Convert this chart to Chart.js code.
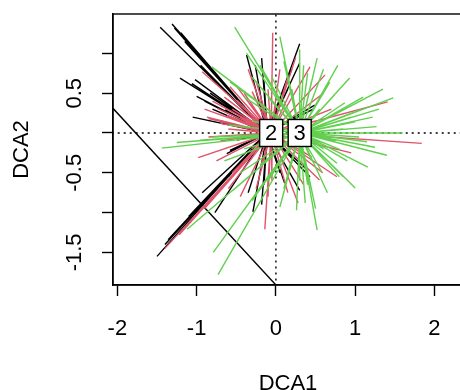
<!DOCTYPE html>
<html><head><meta charset="utf-8">
<script src="https://cdn.jsdelivr.net/npm/chart.js@4/dist/chart.umd.min.js"></script>
<style>html,body{margin:0;padding:0;overflow:hidden;background:#fff}
#wrap{width:470px;height:390px;position:relative}</style>
</head><body><div id="wrap"><canvas id="c" width="470" height="390"></canvas></div>
<script>
// Group centroids (DCA1, DCA2)
const centroidLabels = ['1', '2', '3'];
const centroidX = [-0.11, -0.06, 0.30];
const centroidY = [0.0, 0.0, 0.0];
const labelledGroups = [1, 2];

// Group 1 sites (black)
const g1X = [-1.46,-1.31,-1.24,-1.20,-1.21,-1.02,-1.06,-1.00,-1.05,-0.83,-0.37,-0.18,-0.26,0.30,0.30,0.49,0.47,0.43,0.30,0.11,-0.29,-0.18,-0.77,-0.93,-1.36,-1.34,-1.50,-0.62,-0.64,-0.49,-0.58,0.38,0.20,
  -1.28,-1.15,-0.95,-0.90,-0.80,-0.70,-0.45,-1.30,-1.40,-1.10,-0.60,-0.35,-0.15,0.05,-0.15,0.15,0.20];
const g1Y = [1.33,1.37,1.29,1.26,0.69,0.67,0.62,0.46,0.20,0.50,0.98,0.94,0.85,1.12,0.88,0.35,0.30,-0.55,-0.72,-0.63,-0.99,-0.90,-1.00,-0.75,-1.34,-1.32,-1.55,-0.26,0.29,-0.09,-0.22,-0.45,-0.30,
  1.32,1.15,0.85,0.40,0.30,0.15,0.35,-1.28,-1.40,-1.05,-0.55,-0.75,-0.65,-0.50,0.65,0.55,0.80];
// Group 2 sites (red)
const g2X = [-0.93,-0.87,-0.74,-0.73,-0.58,-0.49,-0.04,-0.30,-0.49,0.43,0.62,1.41,1.84,0.77,0.59,-0.14,0.28,0.55,-1.40,-1.22,-0.98,-1.05,-0.90,-0.85,-0.70,-0.60,-0.35,-0.30,0.00,0.10,-0.20,-0.40,-0.75,-0.55,0.20,-0.10,0.05,
  -0.80,-0.65,-0.55,-0.45,-0.90,-0.62,-0.40,-0.25,-0.20,-0.70,-0.50,-0.85,-0.25,-0.05,0.15,0.35,-0.45,-0.60,0.45,0.70,0.50,0.95,0.60,0.15,-0.10,0.25,-0.35];
const g2Y = [0.77,0.20,0.31,0.16,0.58,0.41,1.26,0.52,0.58,0.83,0.73,0.39,-0.13,-0.55,-0.50,-1.21,-0.88,-0.59,-1.45,-1.28,-0.31,-1.09,-0.95,0.18,0.12,0.05,0.25,-0.20,0.35,-0.40,-0.45,-0.35,-0.35,-0.50,0.55,-0.80,0.80,
  0.40,0.45,0.30,0.20,0.30,0.22,0.50,0.65,0.40,-0.10,-0.15,-0.05,-0.70,-0.60,-0.75,-0.65,-0.80,-0.70,-0.30,0.30,0.15,-0.25,0.50,0.70,0.55,0.95,0.80];
// Group 3 sites (green)
const g3X = [-0.52,0.05,0.52,0.91,-0.81,-0.37,0.68,-0.58,1.48,0.93,1.22,1.27,1.60,1.40,1.16,1.00,0.87,1.06,0.74,1.15,1.00,0.81,0.52,0.05,0.37,0.26,0.58,0.77,-1.12,-0.79,-0.73,-0.54,-1.44,-1.25,-0.96,0.55,0.45,0.15,0.60,0.05,0.20,-0.30,-0.45,0.40,0.85,
  0.10,0.35,-0.05,0.45,-0.20,0.60,-0.40,-0.10,0.30,0.78,1.10,0.95,1.30,0.85,1.05,0.90,1.25,0.70,0.75,1.35,0.65,0.40,0.10,-0.10,0.80,0.30,-0.30,-0.20,0.50,-0.60,-0.80,-0.40,-0.65,-0.30];
const g3Y = [1.33,1.21,0.94,0.67,0.83,1.00,0.64,0.64,0.44,0.69,0.20,0.08,0.00,-0.28,-0.43,-0.69,0.38,0.29,0.48,-0.11,0.14,-0.21,-1.22,-0.93,-0.88,-0.97,-0.49,-0.38,-1.21,-1.50,-1.78,-0.72,-0.19,-0.12,-0.09,0.30,-0.35,-0.50,-0.20,0.40,0.55,0.70,-0.50,0.75,-0.55,
  0.90,0.85,0.70,0.65,0.85,0.80,0.45,0.45,1.05,0.85,0.45,0.20,0.30,0.05,-0.05,-0.35,-0.18,0.15,-0.10,0.55,-0.75,-0.65,-0.70,-0.60,-0.55,-0.60,-0.85,-0.40,-0.95,0.10,-0.05,-0.20,-0.35,0.15];
// Long black diagonal line
const diagX = [-2.30, 0.20];
const diagY = [0.574, -2.126];

const xTicks = [-2, -1, 0, 1, 2];
const yTicks = [-1.5, -1, -0.5, 0, 0.5, 1];
const yTickLabels = ['-1.5', '', '-0.5', '', '0.5', ''];
const xRange = [-2.055, 2.36];
const yRange = [-1.91, 1.495];

const groupColors = ['#000000', '#DF536B', '#61D04F'];
const FONT = "'Liberation Sans', Arial, Helvetica, sans-serif";

function spider(g, xs, ys) {
  const out = [];
  for (let i = 0; i < xs.length; i++) {
    out.push({x: centroidX[g], y: centroidY[g]});
    out.push({x: xs[i], y: ys[i]});
    out.push({x: centroidX[g], y: null});
  }
  return out;
}
function lineDs(data, color, order, dash) {
  return {data, showLine: true, borderColor: color, borderWidth: 1.4, pointRadius: 0,
    borderDash: dash || [], spanGaps: false, order, fill: false};
}

const datasets = [
  lineDs([{x: xRange[0] - 1, y: 0}, {x: xRange[1] + 1, y: 0}], '#000', 10, [2, 4]),
  lineDs([{x: 0, y: yRange[0] - 1}, {x: 0, y: yRange[1] + 1}], '#000', 10, [2, 4]),
  lineDs(diagX.map((v, i) => ({x: v, y: diagY[i]})), groupColors[0], 5),
  lineDs(spider(0, g1X, g1Y), groupColors[0], 4),
  lineDs(spider(1, g2X, g2Y), groupColors[1], 3),
  lineDs(spider(2, g3X, g3Y), groupColors[2], 2),
];

const labelPlugin = {
  id: 'labels',
  afterDatasetsDraw(chart) {
    const {ctx, scales: {x, y}} = chart;
    ctx.save();
    labelledGroups.forEach(g => {
      const px = x.getPixelForValue(centroidX[g]);
      const py = y.getPixelForValue(centroidY[g]);
      const w = 23, h = 27;
      ctx.fillStyle = '#fff';
      ctx.fillRect(px - w / 2, py - h / 2, w, h);
      ctx.strokeStyle = '#000';
      ctx.lineWidth = 1.4;
      ctx.strokeRect(px - w / 2, py - h / 2, w, h);
      ctx.fillStyle = '#000';
      ctx.font = '22px ' + FONT;
      ctx.textAlign = 'center';
      ctx.textBaseline = 'middle';
      ctx.fillText(centroidLabels[g], px, py + 1);
    });
    ctx.restore();
  },
  afterDraw(chart) {
    const {ctx, chartArea: a} = chart;
    ctx.save();
    ctx.strokeStyle = '#000';
    ctx.lineWidth = 1.4;
    ctx.strokeRect(a.left, a.top, a.right - a.left, a.bottom - a.top);
    ctx.restore();
  }
};

function zeroPad(s) { s.paddingTop = 0; s.paddingBottom = 0; s.paddingLeft = 0; s.paddingRight = 0; }
const tickFont = {family: FONT, size: 22};
new Chart(document.getElementById('c'), {
  type: 'scatter',
  data: {datasets},
  options: {
    responsive: false, animation: false,
    layout: {padding: {top: 14, right: 7, left: 0, bottom: 0}},
    plugins: {legend: {display: false}, tooltip: {enabled: false}},
    scales: {
      x: {
        type: 'linear', position: 'bottom', min: xRange[0], max: xRange[1],
        afterBuildTicks: s => { s.ticks = xTicks.map(v => ({value: v})); },
        afterFit: s => { s.height = 105; zeroPad(s); },
        ticks: {font: tickFont, color: '#000', padding: 20, autoSkip: false, maxRotation: 0, minRotation: 0,
          callback: v => String(v)},
        grid: {drawOnChartArea: false, color: '#000', tickLength: 11, tickWidth: 1.4},
        border: {display: true, color: '#000', width: 1.4},
        title: {display: true, text: 'DCA1', color: '#000', font: {family: FONT, size: 22, lineHeight: 1}, padding: {top: 0, bottom: -5}}
      },
      y: {
        type: 'linear', position: 'left', min: yRange[0], max: yRange[1],
        afterBuildTicks: s => { s.ticks = yTicks.map(v => ({value: v})); },
        afterFit: s => { s.width = 113; zeroPad(s); },
        ticks: {font: tickFont, color: '#000', padding: 8, autoSkip: false, minRotation: 90, maxRotation: 90,
          crossAlign: 'center',
          callback: v => { const i = yTicks.indexOf(v); return i >= 0 ? yTickLabels[i] : ''; }},
        grid: {drawOnChartArea: false, color: '#000', tickLength: 11, tickWidth: 1.4},
        border: {display: true, color: '#000', width: 1.4},
        title: {display: true, text: 'DCA2', color: '#000', font: {family: FONT, size: 22, lineHeight: 1}, padding: {top: 10.5, bottom: 0}}
      }
    }
  },
  plugins: [labelPlugin]
});
</script></body></html>
